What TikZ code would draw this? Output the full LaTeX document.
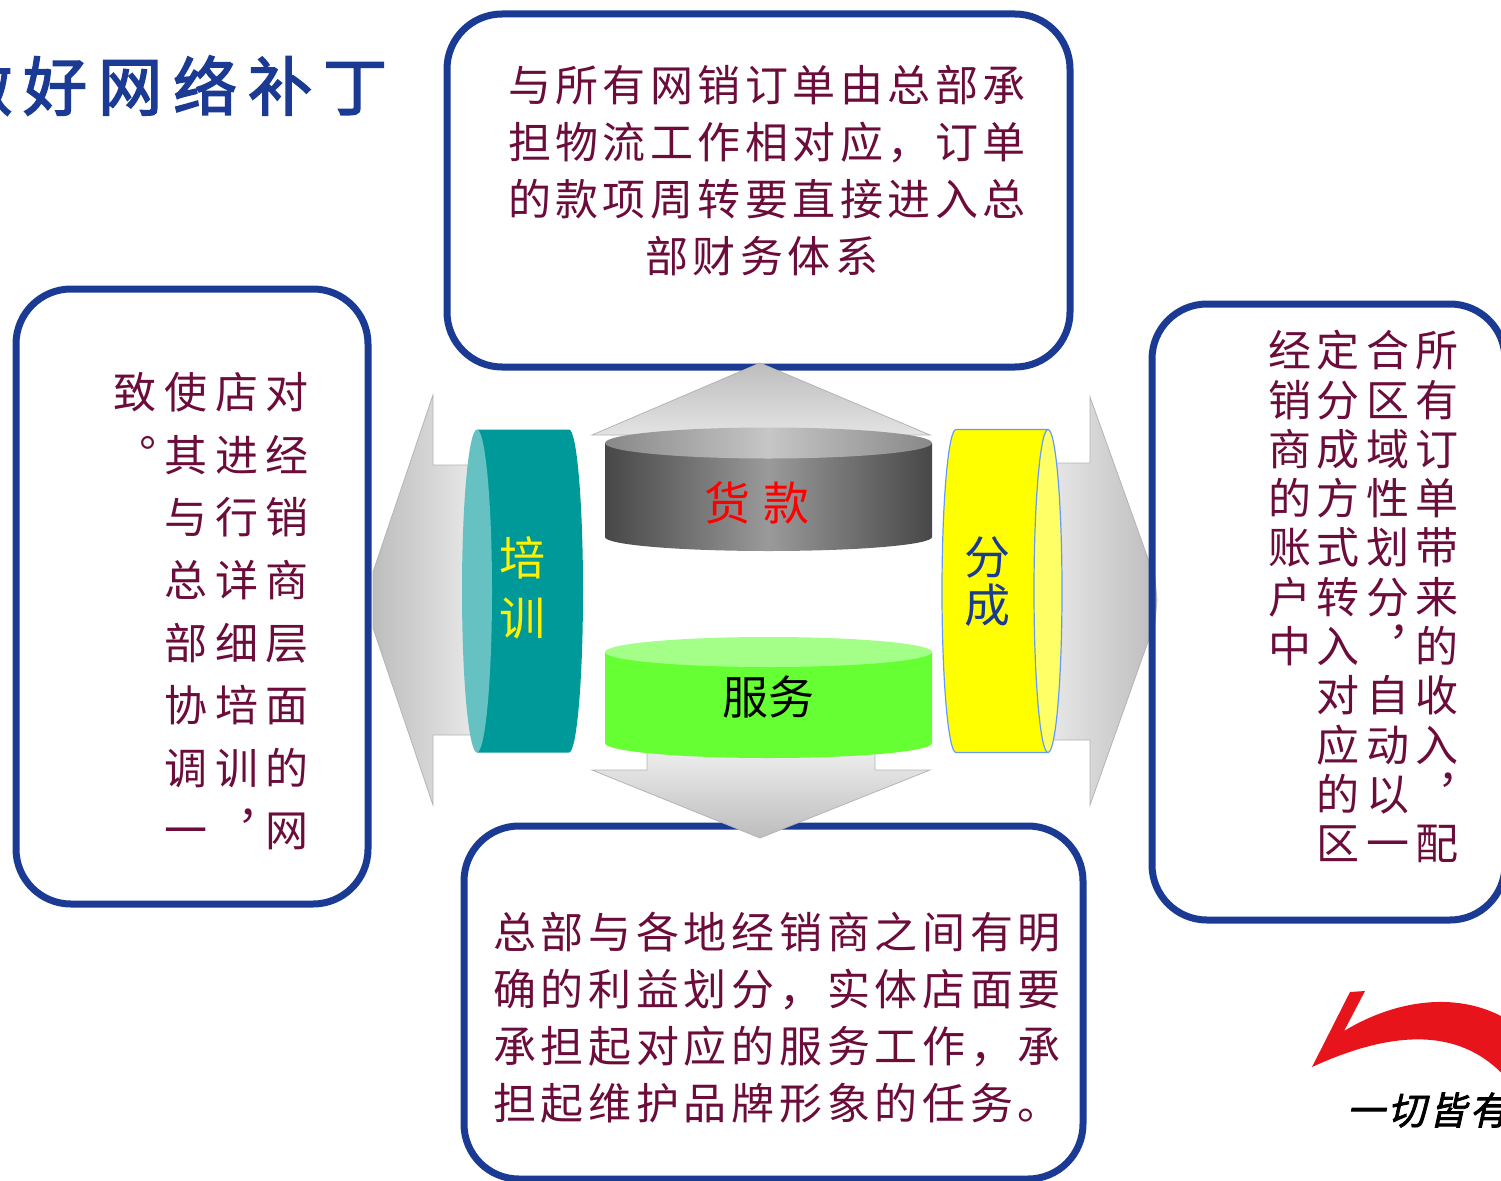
\documentclass[tikz,border=0pt]{standalone}
\usepackage{fontspec}
\newfontfamily\cjk{Noto Sans CJK SC}
\newfontfamily\cjkbold[FakeBold=2.5]{Noto Sans CJK SC}
\newfontfamily\cjkslant[FakeBold=2,FakeSlant=0.22]{Noto Sans CJK SC}

\definecolor{panelblue}{HTML}{1B3A93}
\definecolor{inkred}{HTML}{6B0C3B}
\definecolor{arrowedge}{HTML}{B4B4B4}
\definecolor{arrowdark}{HTML}{BDBDBD}
\definecolor{arrowlight}{HTML}{F3F3F3}
\definecolor{tealbody}{HTML}{009999}
\definecolor{tealface}{HTML}{66C2C2}
\definecolor{ybody}{HTML}{FFFF00}
\definecolor{yface}{HTML}{FFFF66}
\definecolor{yedge}{HTML}{6699FF}
\definecolor{gbody}{HTML}{66FF33}
\definecolor{gface}{HTML}{A3FF88}
\definecolor{cgA}{HTML}{474747}
\definecolor{cgB}{HTML}{9A9A9A}
\definecolor{ctA}{HTML}{888888}
\definecolor{ctB}{HTML}{C6C6C6}
\definecolor{logored}{HTML}{E8141C}

\pgfdeclarehorizontalshading{cylgrey}{100bp}{color(0bp)=(cgA); color(25bp)=(cgA); color(50bp)=(cgB); color(75bp)=(cgA); color(100bp)=(cgA)}
\pgfdeclarehorizontalshading{cylgreytop}{100bp}{color(0bp)=(ctA); color(25bp)=(ctA); color(50bp)=(ctB); color(75bp)=(ctA); color(100bp)=(ctA)}

\makeatletter
\newdimen\cj@pitch
% each character in a box of fixed width
\def\cj@loop#1{\ifx#1\relax\else\hbox to\cj@pitch{\hss#1\hss}\expandafter\cj@loop\fi}
% a horizontal row of evenly spaced characters
\newcommand\cjrow[2]{\hbox{\cj@pitch=#1\relax\cj@loop#2\relax}}
% a vertical column of evenly spaced characters (baseline = first character)
\newcommand\cjcol[3]{\vtop{\cj@pitch=#1\relax\baselineskip=#2\relax\lineskiplimit=-\maxdimen\relax\cj@loop#3\relax}}
\makeatother

\begin{document}
\begin{tikzpicture}[x=1pt,y=-1pt,
  panel/.style={rectangle, draw=panelblue, line width=7pt, rounded corners=55pt, inner sep=0pt},
  arrowshape/.style={draw=arrowedge, line width=0.8pt},
  boxtext/.style={inner sep=0pt, anchor=base, text=inkred, font=\cjk\fontsize{43pt}{43pt}\selectfont},
  cyllabel/.style={inner sep=0pt, font=\cjk\fontsize{46pt}{46pt}\selectfont}]
\useasboundingbox (0,0) rectangle (1501,1180);
\clip (0,0) rectangle (1501,1180);

% side arrows (behind the panels)
\shade[arrowshape, left color=arrowdark, right color=arrowlight]
  (373,572) -- (433,395) -- (433,465) -- (500,465) -- (500,735) -- (433,735) -- (433,805) -- (373,628) -- cycle;
\shade[arrowshape, left color=arrowlight, right color=arrowdark]
  (1155,578) -- (1090,397) -- (1090,463) -- (1020,463) -- (1020,740) -- (1090,740) -- (1090,805) -- (1155,622) -- (1157,600) -- cycle;

% text panels
\node[panel, minimum width=352pt, minimum height=615pt] (leftpanel) at (192,596.5) {};
\node[panel, minimum width=623pt, minimum height=353pt] (toppanel) at (758.5,190.5) {};
\node[panel, minimum width=619pt, minimum height=353pt] (bottompanel) at (773.5,1002.5) {};
\node[panel, minimum width=353pt, minimum height=616pt] (rightpanel) at (1328.5,612) {};

% vertical arrows
\shade[arrowshape, top color=arrowdark, bottom color=arrowlight]
  (592,435) -- (760,363) -- (930,435) -- (875,435) -- (875,465) -- (647,465) -- (647,435) -- cycle;
\shade[arrowshape, top color=arrowlight, bottom color=arrowdark]
  (592,770) -- (647,770) -- (647,740) -- (875,740) -- (875,770) -- (930,770) -- (760,838) -- cycle;

% teal drum
\fill[tealbody] (477,429.5) -- (569,429.5) arc[start angle=-90, end angle=90, x radius=14, y radius=161.5] -- (477,752.5) -- cycle;
\fill[tealface] (477,591) ellipse[x radius=15, y radius=161.5];

% yellow drum
\filldraw[fill=ybody, draw=yedge, line width=1.2pt] (1048,429.5) -- (956,429.5) arc[start angle=-90, end angle=-270, x radius=14, y radius=161.5] -- (1048,752.5) -- cycle;
\filldraw[fill=yface, draw=yedge, line width=1.2pt] (1048,591) ellipse[x radius=14, y radius=161.5];

% grey drum
\shade[shading=cylgrey] (605,443) -- (605,537) arc[start angle=180, end angle=0, x radius=163.5, y radius=14] -- (932,443) -- cycle;
\shade[shading=cylgreytop] (768.5,443) ellipse[x radius=163.5, y radius=15.5];

% green drum
\fill[gbody] (605,652) -- (605,743) arc[start angle=180, end angle=0, x radius=163.5, y radius=15] -- (932,652) -- cycle;
\fill[gface] (768.5,652) ellipse[x radius=163.5, y radius=15];

% drum labels
\node[cyllabel, text=red] (huokuan) at (757,503) {货\hspace{14pt}款};
\node[cyllabel, text=black] (fuwu) at (768,697) {服务};
\node[cyllabel, anchor=base, text=yellow] (peixun) at (522,575) {\cjcol{46pt}{60pt}{培训}};
\node[cyllabel, anchor=base, text=panelblue] (fencheng) at (987,574.5) {\cjcol{46pt}{48pt}{分成}};

% panel texts
\node[boxtext] (toptext) at (767,101.7) {\vtop{\baselineskip=57pt\lineskiplimit=-\maxdimen
  \cjrow{47.5pt}{与所有网销订单由总部承}
  \cjrow{47.5pt}{担物流工作相对应，订单}
  \cjrow{47.5pt}{的款项周转要直接进入总}
  \hbox to 522.5pt{\hss\cjrow{47.5pt}{部财务体系}\hss\hspace{10pt}}}};

\node[boxtext] (bottomtext) at (777,948.7) {\vtop{\baselineskip=57pt\lineskiplimit=-\maxdimen
  \cjrow{47.7pt}{总部与各地经销商之间有明}
  \cjrow{47.7pt}{确的利益划分，实体店面要}
  \cjrow{47.7pt}{承担起对应的服务工作，承}
  \cjrow{47.7pt}{担起维护品牌形象的任务。}}};

\node[boxtext] (lcolA) at (287,408.7) {\cjcol{50pt}{62.6pt}{对经销商层面的网}};
\node[boxtext] (lcolB) at (237,408.7) {\cjcol{50pt}{62.6pt}{店进行详细培训︐}};
\node[boxtext] (lcolC) at (186,408.7) {\cjcol{50pt}{62.6pt}{使其与总部协调一}};
\node[boxtext] (lcolD) at (135,408.7) {\cjcol{50pt}{62.6pt}{致︒}};

\node[boxtext] (rcolA) at (1437,366.7) {\cjcol{49pt}{49.3pt}{所有订单带来的收入︐配}};
\node[boxtext] (rcolB) at (1388,366.7) {\cjcol{49pt}{49.3pt}{合区域性划分︐自动以一}};
\node[boxtext] (rcolC) at (1338,366.7) {\cjcol{49pt}{49.3pt}{定分成方式转入对应的区}};
\node[boxtext] (rcolD) at (1290,366.7) {\cjcol{49pt}{49.3pt}{经销商的账户中}};

% heading
\node[anchor=base west, inner sep=0pt, text=panelblue, font=\cjkbold\fontsize{64pt}{64pt}\selectfont] (heading) at (-57.5,110.3) {\cjrow{75pt}{做好网络补丁}};

% brand mark
\fill[logored] (1312,1067) -- (1350,992) -- (1365,991) -- (1344,1031)
  .. controls (1390,1003) and (1450,990) .. (1501,1016) -- (1508,1021) -- (1508,1080)
  .. controls (1470,1036) and (1410,1022) .. (1312,1067) -- cycle;
\node[anchor=base west, inner sep=0pt, text=black, font=\cjkslant\fontsize{38pt}{38pt}\selectfont] (slogan) at (1345,1124.5) {\cjrow{41pt}{一切皆有可能}};
\end{tikzpicture}
\end{document}
